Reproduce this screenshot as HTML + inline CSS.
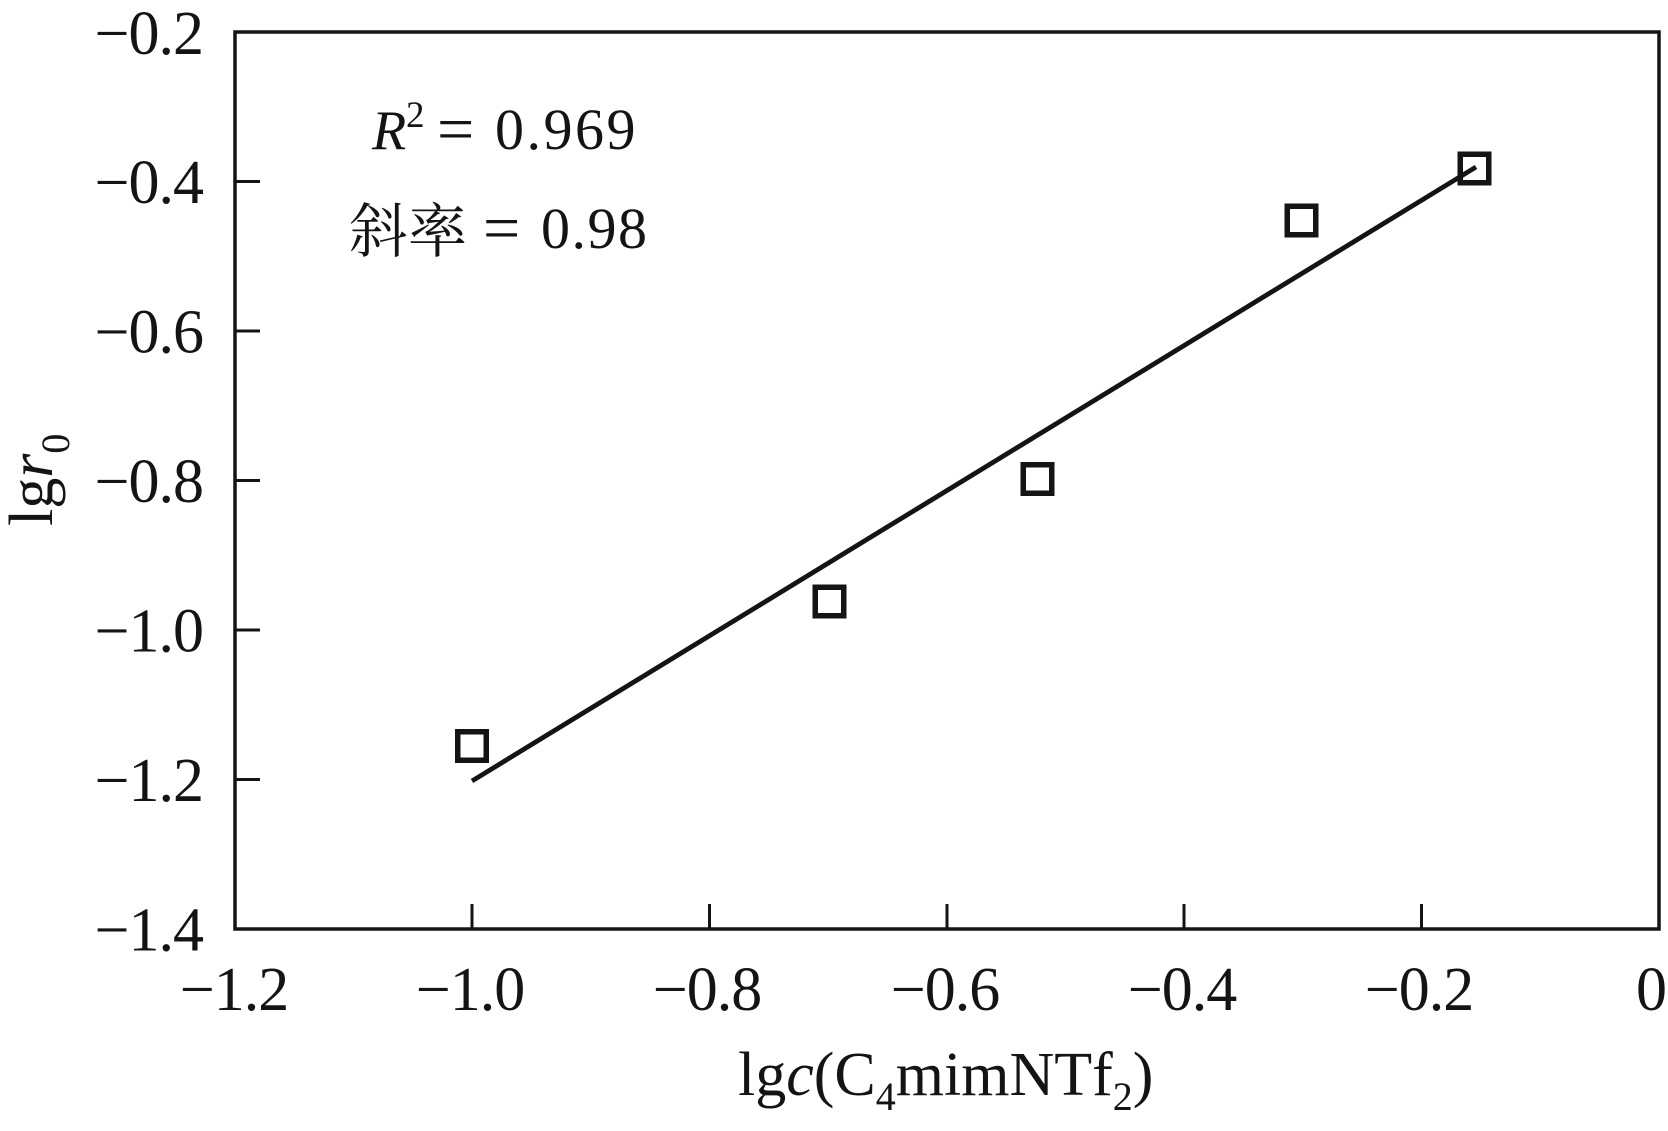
<!DOCTYPE html>
<html>
<head>
<meta charset="utf-8">
<style>
  html,body{margin:0;padding:0;background:#fff;}
  svg{display:block;}
</style>
</head>
<body>
<svg width="1668" height="1131" viewBox="0 0 1668 1131" xmlns="http://www.w3.org/2000/svg" font-family="'Liberation Serif', serif" fill="#141414">
  <!-- frame -->
  <rect x="235" y="32" width="1424" height="897" fill="none" stroke="#141414" stroke-width="3.5"/>
  <!-- ticks -->
  <g stroke="#141414" stroke-width="3">
    <line x1="235" y1="181.5" x2="260" y2="181.5"/>
    <line x1="235" y1="331" x2="260" y2="331"/>
    <line x1="235" y1="480.5" x2="260" y2="480.5"/>
    <line x1="235" y1="630" x2="260" y2="630"/>
    <line x1="235" y1="779.5" x2="260" y2="779.5"/>
    <line x1="472" y1="929" x2="472" y2="904"/>
    <line x1="709.5" y1="929" x2="709.5" y2="904"/>
    <line x1="947" y1="929" x2="947" y2="904"/>
    <line x1="1184" y1="929" x2="1184" y2="904"/>
    <line x1="1421.5" y1="929" x2="1421.5" y2="904"/>
  </g>
  <!-- y tick labels -->
  <g font-size="62" text-anchor="end" letter-spacing="-1" font-family="'Liberation Serif', serif">
    <text x="203" y="54">−0.2</text>
    <text x="203" y="203">−0.4</text>
    <text x="203" y="352.5">−0.6</text>
    <text x="203" y="502">−0.8</text>
    <text x="203" y="651.5">−1.0</text>
    <text x="203" y="801">−1.2</text>
    <text x="203" y="950.5">−1.4</text>
  </g>
  <!-- x tick labels -->
  <g font-size="62" text-anchor="middle" letter-spacing="-1" font-family="'Liberation Serif', serif">
    <text x="234" y="1010">−1.2</text>
    <text x="470" y="1010">−1.0</text>
    <text x="707" y="1010">−0.8</text>
    <text x="945" y="1010">−0.6</text>
    <text x="1182" y="1010">−0.4</text>
    <text x="1419" y="1010">−0.2</text>
    <text x="1651" y="1010">0</text>
  </g>
  <!-- fit line -->
  <line x1="472" y1="781" x2="1476" y2="167" stroke="#141414" stroke-width="4.8"/>
  <!-- data squares -->
  <g fill="none" stroke="#141414" stroke-width="5.5">
    <rect x="457.75" y="731.75" width="28.5" height="28.5"/>
    <rect x="815.25" y="587.25" width="28.5" height="28.5"/>
    <rect x="1023.25" y="464.75" width="28.5" height="28.5"/>
    <rect x="1287.25" y="206.25" width="28.5" height="28.5"/>
    <rect x="1460.25" y="154.25" width="28.5" height="28.5"/>
  </g>
  <!-- annotations -->
  <text x="372" y="149" font-size="56" font-style="italic" font-family="'Liberation Serif', serif">R</text>
  <text x="406" y="127" font-size="37" font-family="'Liberation Serif', serif">2</text>
  <text x="437" y="151" font-size="66" font-family="'Liberation Serif', serif">=</text>
  <text x="495" y="149" font-size="58" letter-spacing="2.5" font-family="'Liberation Serif', serif">0.969</text>

  <text x="349" y="252" font-size="59" font-family="'Noto Serif CJK SC', 'Noto Sans CJK SC', serif">斜率</text>
  <text x="483" y="250" font-size="66" font-family="'Liberation Serif', serif">=</text>
  <text x="541" y="248" font-size="58" letter-spacing="1.5" font-family="'Liberation Serif', serif">0.98</text>

  <!-- x axis title -->
  <text x="738" y="1095" font-size="62" font-family="'Liberation Serif', serif">lg<tspan font-style="italic">c</tspan>(C<tspan font-size="40" dy="15">4</tspan><tspan dy="-15">mimNTf</tspan><tspan font-size="40" dy="15">2</tspan><tspan dy="-15">)</tspan></text>

  <!-- y axis title -->
  <text transform="translate(52,526) rotate(-90)" x="0" y="0" font-size="62" font-family="'Liberation Serif', serif">lg<tspan font-style="italic">r</tspan><tspan font-size="40" dy="17">0</tspan></text>
</svg>
</body>
</html>
